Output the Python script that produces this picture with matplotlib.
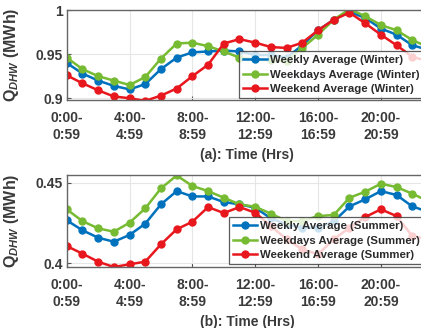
import matplotlib
matplotlib.use("Agg")
import matplotlib.pyplot as plt

plt.rcParams["font.family"] = ["Liberation Sans", "DejaVu Sans"]
plt.rcParams["font.weight"] = "bold"
plt.rcParams["mathtext.fontset"] = "custom"
plt.rcParams["mathtext.rm"] = "Liberation Sans:bold"
plt.rcParams["mathtext.it"] = "Liberation Sans:italic:bold"

hours = list(range(24))
tick_hours = [0, 4, 8, 12, 16, 20]
tick_labels = ["0:00-\n0:59", "4:00-\n4:59", "8:00-\n8:59",
               "12:00-\n12:59", "16:00-\n16:59", "20:00-\n20:59"]

# winter (MWh)
weekly_winter = [0.940, 0.928, 0.920, 0.914, 0.910, 0.916, 0.933, 0.946, 0.952, 0.953,
                 0.954, 0.953, 0.949, 0.949, 0.946, 0.960, 0.977, 0.989, 0.998, 0.991,
                 0.979, 0.972, 0.960, 0.955]
weekdays_winter = [0.946, 0.933, 0.925, 0.920, 0.915, 0.924, 0.945, 0.962, 0.963, 0.959,
                   0.953, 0.946, 0.944, 0.943, 0.942, 0.957, 0.972, 0.989, 1.001, 0.993,
                   0.983, 0.977, 0.966, 0.958]
weekend_winter = [0.926, 0.917, 0.909, 0.902, 0.900, 0.897, 0.903, 0.911, 0.925, 0.938,
                  0.962, 0.967, 0.963, 0.958, 0.957, 0.963, 0.977, 0.989, 0.997, 0.985,
                  0.972, 0.960, 0.947, 0.942]

# summer (MWh)
weekly_summer = [0.4267, 0.4205, 0.4159, 0.4134, 0.4176, 0.4246, 0.4366, 0.4448, 0.4415, 0.4415,
                 0.4380, 0.4366, 0.4345, 0.4279, 0.4242, 0.4221, 0.4221, 0.4260, 0.4353, 0.4397,
                 0.4448, 0.4424, 0.4353, 0.4320]
weekdays_summer = [0.4335, 0.4262, 0.4217, 0.4196, 0.4252, 0.4341, 0.4465, 0.4545, 0.4480, 0.4448,
                   0.4407, 0.4366, 0.4351, 0.4308, 0.4262, 0.4262, 0.4293, 0.4300, 0.4407, 0.4444,
                   0.4494, 0.4473, 0.4432, 0.4386]
weekend_summer = [0.4107, 0.4060, 0.4010, 0.3977, 0.3994, 0.4010, 0.4118, 0.4211, 0.4258, 0.4349,
                  0.4312, 0.4349, 0.4314, 0.4231, 0.4149, 0.4087, 0.4056, 0.4149, 0.4221, 0.4287,
                  0.4335, 0.4293, 0.4169, 0.4149]

BLUE = "#0072BD"
GREEN = "#77BB33"
RED = "#E8171D"
TEXT = "#3a3a3a"

W, H = 421, 328
fig = plt.figure(figsize=(W / 100, H / 100), dpi=100)


def panel(rect, series, labels, ylim, yticks, yticklabels, xlabel, leg_xy):
    left, top, right, bottom = rect
    ax = fig.add_axes([left / W, 1 - bottom / H, (right - left) / W, (bottom - top) / H])
    for vals, lab, col in zip(series, labels, [BLUE, GREEN, RED]):
        ax.plot(hours, vals, color=col, lw=1.8, marker="o", ms=5, label=lab)
    ax.set_xlim(0, 23)
    ax.set_ylim(*ylim)
    ax.set_xticks(tick_hours)
    ax.set_xticklabels(tick_labels, fontsize=10, fontweight="bold", color=TEXT,
                       linespacing=1.3)
    ax.set_yticks(yticks)
    ax.set_yticklabels(yticklabels, fontsize=10, fontweight="bold", color=TEXT)
    ax.tick_params(direction="in", length=3, color="#555555")
    ax.tick_params(axis="x", pad=8)
    ax.tick_params(axis="y", pad=3)
    ax.grid(True, color="#e6e6e6", lw=0.8)
    for s in ax.spines.values():
        s.set_color("#666666")
        s.set_linewidth(1.0)
    ax.set_xlabel(xlabel, fontsize=10, fontweight="bold", color=TEXT, labelpad=4)
    ax.set_ylabel(r"Q$_{\mathit{DHW}}$ (MWh)", fontsize=11.5, fontweight="bold", color=TEXT)
    ax.yaxis.set_label_coords(-46 / (right - left), 0.5)
    leg = ax.legend(loc="upper left", bbox_to_anchor=(leg_xy[0] / W, 1 - leg_xy[1] / H),
                    bbox_transform=fig.transFigure, fontsize=8.2, frameon=True,
                    fancybox=False, handlelength=2.1, handletextpad=0.25,
                    borderpad=0.35, labelspacing=0.4, borderaxespad=0)
    leg.get_frame().set_edgecolor("#333333")
    leg.get_frame().set_linewidth(0.9)
    for t in leg.get_texts():
        t.set_color("#2a2a2a")
    return ax


panel((66.7, 10, 428, 100),
      [weekly_winter, weekdays_winter, weekend_winter],
      ["Weekly Average (Winter)", "Weekdays Average (Winter)", "Weekend Average (Winter)"],
      (0.898, 1.0), [0.9, 0.95, 1.0], ["0.9", "0.95", "1"],
      "(a): Time (Hrs)", (239, 51))

panel((66.7, 175, 428, 266.7),
      [weekly_summer, weekdays_summer, weekend_summer],
      ["Weekly Average (Summer)", "Weekdays Average (Summer)", "Weekend Average (Summer)"],
      (0.3979, 0.4548), [0.4, 0.45], ["0.4", "0.45"],
      "(b): Time (Hrs)", (229, 217))

fig.savefig("out.png", dpi=100)
